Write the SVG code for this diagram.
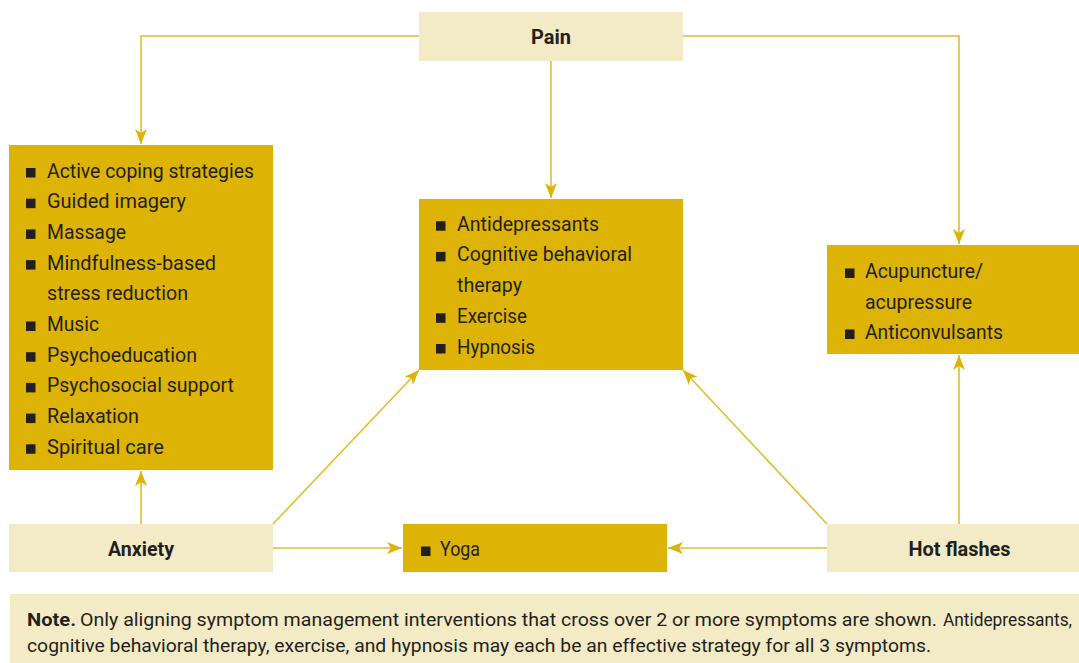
<svg xmlns="http://www.w3.org/2000/svg" width="1079" height="663" viewBox="0 0 1079 663">
<style>
.light{fill:#F3EBC5}
.dark{fill:#DDB306}
.t{font-family:Roboto,"Liberation Sans",sans-serif;font-size:21px;fill:#231F20}
.b{font-weight:bold}
.note{font-size:18px}
.bul{fill:#231F20}
.c{fill:none;stroke:#E2BC2E;stroke-width:1.6}
</style>
<defs>
<marker id="ah" markerUnits="userSpaceOnUse" markerWidth="16" markerHeight="12" refX="15" refY="6" orient="auto" viewBox="0 0 16 12">
<path d="M0,0 L15,6 L0,12 L4,6 Z" fill="#DDB306"/>
</marker>
</defs>
<rect width="1079" height="663" fill="#FFFFFF"/>
<g id="connectors">
<polyline class="c" points="419,36 141,36 141,144" marker-end="url(#ah)"/>
<line class="c" x1="551" y1="61" x2="551" y2="198" marker-end="url(#ah)"/>
<polyline class="c" points="683,36 959,36 959,244" marker-end="url(#ah)"/>
<line class="c" x1="141" y1="524" x2="141" y2="471" marker-end="url(#ah)"/>
<line class="c" x1="273" y1="524" x2="419" y2="370" marker-end="url(#ah)"/>
<line class="c" x1="273" y1="548" x2="402" y2="548" marker-end="url(#ah)"/>
<line class="c" x1="827" y1="524" x2="683" y2="370" marker-end="url(#ah)"/>
<line class="c" x1="827" y1="548" x2="668" y2="548" marker-end="url(#ah)"/>
<line class="c" x1="959" y1="524" x2="959" y2="355" marker-end="url(#ah)"/>
</g>
<g id="pain">
<rect class="light" x="419" y="12" width="264" height="49"/>
<text class="t b" x="551" y="44" text-anchor="middle" textLength="40" lengthAdjust="spacingAndGlyphs">Pain</text>
</g>
<g id="anxiety-interventions">
<rect class="dark" x="9" y="145" width="264" height="325"/>
<rect class="bul" x="26" y="168" width="9.5" height="9.5"/>
<text class="t" x="47" y="177.5" textLength="207" lengthAdjust="spacingAndGlyphs">Active coping strategies</text>
<rect class="bul" x="26" y="198.7" width="9.5" height="9.5"/>
<text class="t" x="47" y="208.2" textLength="139" lengthAdjust="spacingAndGlyphs">Guided imagery</text>
<rect class="bul" x="26" y="229.4" width="9.5" height="9.5"/>
<text class="t" x="47" y="238.9" textLength="79" lengthAdjust="spacingAndGlyphs">Massage</text>
<rect class="bul" x="26" y="260.1" width="9.5" height="9.5"/>
<text class="t" x="47" y="269.6" textLength="169" lengthAdjust="spacingAndGlyphs">Mindfulness-based</text>
<text class="t" x="47" y="300.3" textLength="141" lengthAdjust="spacingAndGlyphs">stress reduction</text>
<rect class="bul" x="26" y="321.5" width="9.5" height="9.5"/>
<text class="t" x="47" y="331" textLength="52" lengthAdjust="spacingAndGlyphs">Music</text>
<rect class="bul" x="26" y="352.2" width="9.5" height="9.5"/>
<text class="t" x="47" y="361.7" textLength="150" lengthAdjust="spacingAndGlyphs">Psychoeducation</text>
<rect class="bul" x="26" y="382.9" width="9.5" height="9.5"/>
<text class="t" x="47" y="392.4" textLength="187" lengthAdjust="spacingAndGlyphs">Psychosocial support</text>
<rect class="bul" x="26" y="413.6" width="9.5" height="9.5"/>
<text class="t" x="47" y="423.1" textLength="92" lengthAdjust="spacingAndGlyphs">Relaxation</text>
<rect class="bul" x="26" y="444.3" width="9.5" height="9.5"/>
<text class="t" x="47" y="453.8" textLength="117" lengthAdjust="spacingAndGlyphs">Spiritual care</text>
</g>
<g id="shared-interventions">
<rect class="dark" x="419" y="199" width="264" height="171"/>
<rect class="bul" x="436" y="221.2" width="9.5" height="9.5"/>
<text class="t" x="457" y="230.7" textLength="142" lengthAdjust="spacingAndGlyphs">Antidepressants</text>
<rect class="bul" x="436" y="251.9" width="9.5" height="9.5"/>
<text class="t" x="457" y="261.4" textLength="175" lengthAdjust="spacingAndGlyphs">Cognitive behavioral</text>
<text class="t" x="457" y="292.1" textLength="65" lengthAdjust="spacingAndGlyphs">therapy</text>
<rect class="bul" x="436" y="313.3" width="9.5" height="9.5"/>
<text class="t" x="457" y="322.8" textLength="70" lengthAdjust="spacingAndGlyphs">Exercise</text>
<rect class="bul" x="436" y="344" width="9.5" height="9.5"/>
<text class="t" x="457" y="353.5" textLength="78" lengthAdjust="spacingAndGlyphs">Hypnosis</text>
</g>
<g id="hotflash-interventions">
<rect class="dark" x="827" y="245" width="252" height="109"/>
<rect class="bul" x="845" y="268.5" width="9.5" height="9.5"/>
<text class="t" x="865" y="278" textLength="118" lengthAdjust="spacingAndGlyphs">Acupuncture/</text>
<text class="t" x="865" y="308.5" textLength="107" lengthAdjust="spacingAndGlyphs">acupressure</text>
<rect class="bul" x="845" y="329.5" width="9.5" height="9.5"/>
<text class="t" x="865" y="339" textLength="138" lengthAdjust="spacingAndGlyphs">Anticonvulsants</text>
</g>
<g id="anxiety">
<rect class="light" x="9" y="524" width="264" height="48"/>
<text class="t b" x="141" y="556" text-anchor="middle" textLength="66" lengthAdjust="spacingAndGlyphs">Anxiety</text>
</g>
<g id="yoga">
<rect class="dark" x="403" y="524" width="264" height="48"/>
<rect class="bul" x="421" y="546.5" width="9.5" height="9.5"/>
<text class="t" x="440" y="556" textLength="40" lengthAdjust="spacingAndGlyphs">Yoga</text>
</g>
<g id="hot-flashes">
<rect class="light" x="827" y="524" width="252" height="48"/>
<text class="t b" x="959.5" y="556" text-anchor="middle" textLength="102" lengthAdjust="spacingAndGlyphs">Hot flashes</text>
</g>
<g id="note">
<rect class="light" x="10" y="594" width="1069" height="69"/>
<text class="t note b" x="27" y="625.5" textLength="49" lengthAdjust="spacingAndGlyphs">Note.</text>
<text class="t note" x="80" y="625.5" textLength="857" lengthAdjust="spacingAndGlyphs">Only aligning symptom management interventions that cross over 2 or more symptoms are shown.</text>
<text class="t note" x="943" y="625.5" textLength="129" lengthAdjust="spacingAndGlyphs">Antidepressants,</text>
<text class="t note" x="27" y="652" textLength="904" lengthAdjust="spacingAndGlyphs">cognitive behavioral therapy, exercise, and hypnosis may each be an effective strategy for all 3 symptoms.</text>
</g>
</svg>
